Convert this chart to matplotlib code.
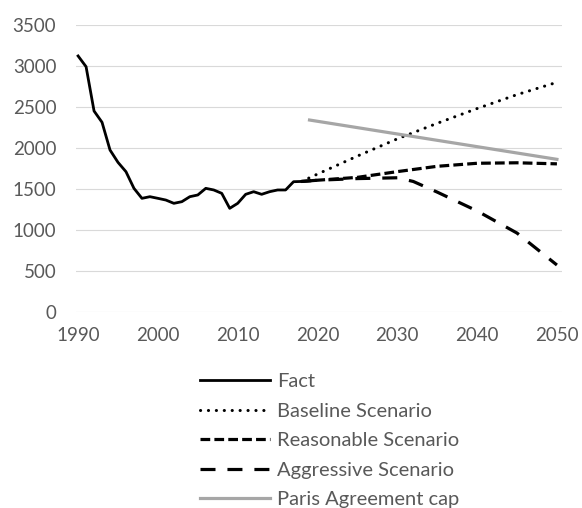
import matplotlib
matplotlib.use("Agg")
import matplotlib.pyplot as plt

# ---- data ----
fact_years = list(range(1990, 2019))
fact_vals = [3122, 2991, 2450, 2312, 1974, 1823, 1709, 1506, 1384, 1404,
             1384, 1363, 1323, 1343, 1404, 1425, 1506, 1486, 1445, 1262,
             1323, 1433, 1465, 1433, 1465, 1486, 1486, 1587, 1590]

base_years = [2018, 2020, 2025, 2030, 2035, 2040, 2045, 2050]
base_vals = [1590, 1680, 1900, 2110, 2300, 2480, 2650, 2800]

reas_years = [2018, 2020, 2025, 2030, 2035, 2040, 2045, 2050]
reas_vals = [1590, 1605, 1640, 1710, 1775, 1812, 1818, 1805]

aggr_years = [2018, 2020, 2025, 2030, 2032, 2035, 2040, 2045, 2050]
aggr_vals = [1590, 1605, 1625, 1635, 1590, 1460, 1230, 960, 570]

paris_years = [2019, 2050]
paris_vals = [2340, 1860]

labels = ["Fact", "Baseline Scenario", "Reasonable Scenario",
          "Aggressive Scenario", "Paris Agreement cap"]
xticks = [1990, 2000, 2010, 2020, 2030, 2040, 2050]
yticks = [0, 500, 1000, 1500, 2000, 2500, 3000, 3500]

plt.rcParams['font.family'] = ['Lato', 'DejaVu Sans']
plt.rcParams['lines.scale_dashes'] = False

fig = plt.figure(figsize=(5.82, 5.08), dpi=100)
ax = fig.add_axes([75.7/582, 1-311.7/508, (561.7-75.7)/582, (311.7-25)/508])

ax.plot(fact_years, fact_vals, color='black', lw=2.0, solid_joinstyle='round', label=labels[0])
ax.plot(base_years, base_vals, color='black', lw=2.2, linestyle=(0, (0.1, 5.6)),
        dash_capstyle='round', label=labels[1])
ax.plot(reas_years, reas_vals, color='black', lw=2.3, linestyle=(0, (7.0, 3.0)), label=labels[2])
ax.plot(aggr_years, aggr_vals, color='black', lw=2.3, linestyle=(0, (10.8, 8.6)), label=labels[3])
ax.plot(paris_years, paris_vals, color='#A6A6A6', lw=2.3, label=labels[4])

ax.set_xlim(1989.7, 2050.6)
ax.set_ylim(0, 3500)
ax.set_xticks(xticks)
ax.set_yticks(yticks)
ax.grid(axis='y', color='#D9D9D9', lw=0.8)
ax.set_axisbelow(True)
for s in ax.spines.values():
    s.set_visible(False)
ax.tick_params(length=0, labelsize=13.5, labelcolor='#595959')
ax.tick_params(axis='y', pad=14)
ax.tick_params(axis='x', pad=11)

fs = 14.5
fpx = fs * 100 / 72
leg = fig.legend(loc='upper left', bbox_to_anchor=(200/582, 1 - 373/508),
                 frameon=False, fontsize=fs, labelcolor='#595959',
                 handlelength=70/fpx, handletextpad=7/fpx, labelspacing=0.62,
                 borderaxespad=0, borderpad=0)

fig.savefig('out.png', dpi=100)
